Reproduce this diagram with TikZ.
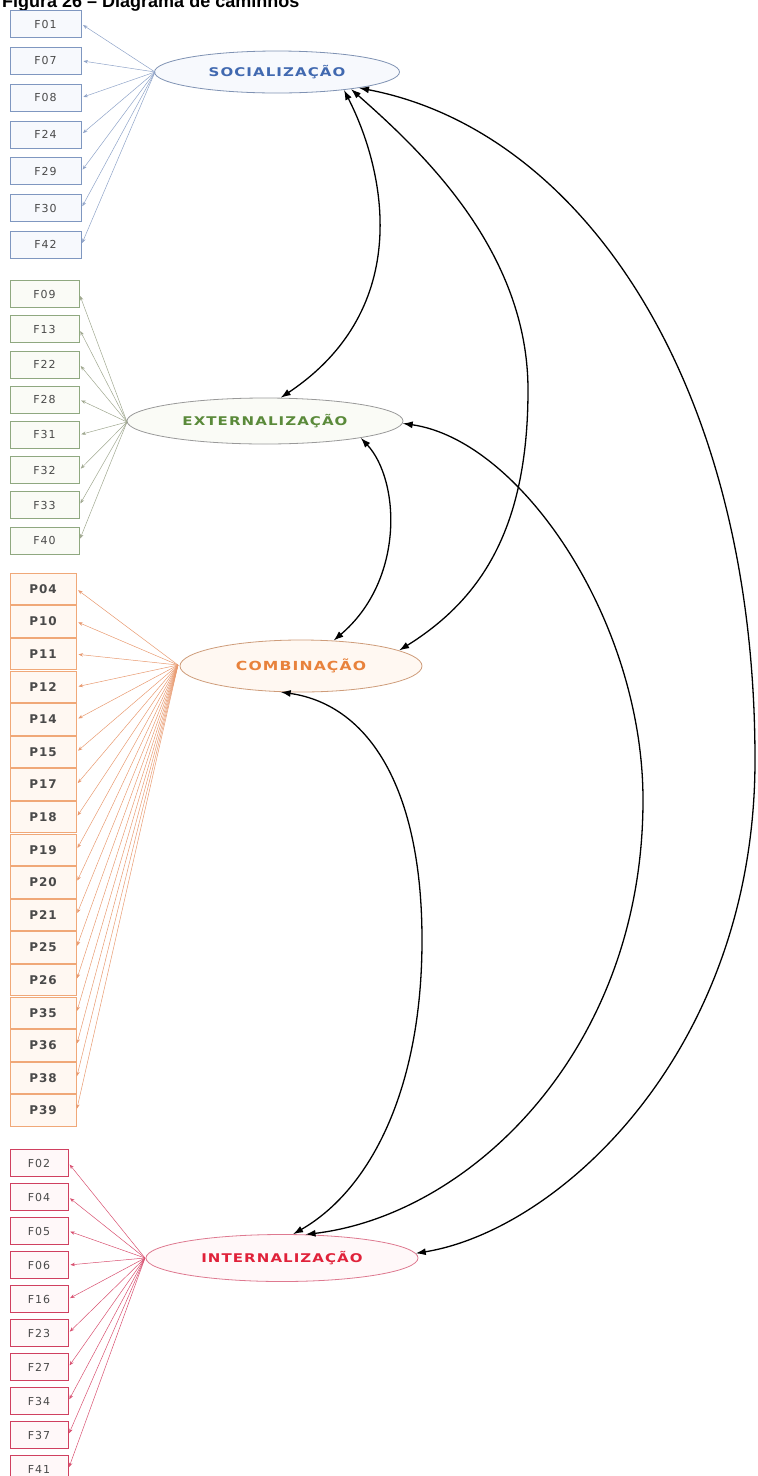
\documentclass[tikz,border=0pt]{standalone}
\usepackage{fontspec}
\setmainfont{DejaVu Sans}
\newfontfamily\titlefont{Liberation Sans}
\newfontfamily\boxfont[LetterSpace=8]{DejaVu Sans}
\newfontfamily\labfont[FakeStretch=1.25,LetterSpace=9]{DejaVu Sans}
\usetikzlibrary{shapes.geometric,arrows.meta}

\definecolor{sBord}{HTML}{7F97C0}
\definecolor{sFill}{HTML}{F7F9FD}
\definecolor{sText}{HTML}{4169B0}
\definecolor{sLine}{HTML}{8FA3C8}
\definecolor{eBord}{HTML}{8FA880}
\definecolor{eFill}{HTML}{FAFBF6}
\definecolor{eText}{HTML}{5A8A3A}
\definecolor{eLine}{HTML}{A0A890}
\definecolor{cBord}{HTML}{F0A878}
\definecolor{cFill}{HTML}{FFF8F2}
\definecolor{cText}{HTML}{E8823C}
\definecolor{cLine}{HTML}{E89A70}
\definecolor{iBord}{HTML}{D04060}
\definecolor{iFill}{HTML}{FFF8F9}
\definecolor{iText}{HTML}{E0223A}
\definecolor{iLine}{HTML}{D85070}
\definecolor{boxTxt}{HTML}{4A4A4A}

\tikzset{
  box/.style={draw, line width=0.8pt, inner sep=0pt, text=boxTxt,
    font=\boxfont\fontsize{11}{13}\selectfont},
  sbox/.style={box, draw=sBord, fill=sFill, minimum width=71pt, minimum height=27pt},
  ebox/.style={box, draw=eBord, fill=eFill, minimum width=69pt, minimum height=27pt},
  cbox/.style={box, draw=cBord, fill=cFill, minimum width=66pt, minimum height=31.5pt,
    line width=1pt, font=\boxfont\bfseries\fontsize{12}{14}\selectfont},
  ibox/.style={box, draw=iBord, fill=iFill, minimum width=58pt, minimum height=27pt},
  ell/.style={ellipse, draw, line width=0.8pt, inner sep=0pt,
    font=\labfont\bfseries\fontsize{12}{14}\selectfont},
  ind/.style={line width=0.5pt, -{Stealth[length=4.5pt,width=3.5pt]}, shorten >=2pt},
  cov/.style={line width=1.3pt, black,
    {Latex[length=10pt,width=7pt]}-{Latex[length=10pt,width=7pt]}}
}

\begin{document}
\begin{tikzpicture}[x=1pt,y=-1pt]
\useasboundingbox (0,0) rectangle (758,1476);
\begin{scope}
\clip (0,0) rectangle (758,1476);
\node[anchor=base west, inner sep=0pt, font=\titlefont\bfseries\fontsize{18}{20}\selectfont]
  (title) at (2,7) {Figura 26 – Diagrama de caminhos};

% latent variables
\node[ell, draw=sBord!80!gray, fill=sFill, text=sText, minimum width=245pt, minimum height=42pt]
  (soc) at (277,72) {SOCIALIZAÇÃO};
\node[ell, draw=gray!80, fill=eFill, text=eText, minimum width=276pt, minimum height=46pt]
  (ext) at (265,421) {EXTERNALIZAÇÃO};
\node[ell, draw=cBord!70!gray, fill=cFill, text=cText, minimum width=242pt, minimum height=52pt,
  font=\labfont\bfseries\fontsize{12.5}{15}\selectfont]
  (comb) at (301,666) {COMBINAÇÃO};
\node[ell, draw=iBord!70, fill=iFill, text=iText, minimum width=272pt, minimum height=47pt]
  (int) at (282,1258) {INTERNALIZAÇÃO};

\coordinate (socF) at (155,72);
\coordinate (extF) at (127,422);
\coordinate (combF) at (178,665);
\coordinate (intF) at (145,1258);

% indicators
\foreach \lab [count=\i from 0] in {F01,F07,F08,F24,F29,F30,F42} {
  \node[sbox] (\lab) at (45.5,{24+36.8*\i}) {\lab};
  \draw[ind, sLine] (socF) -- (\lab.east);
}
\foreach \lab [count=\i from 0] in {F09,F13,F22,F28,F31,F32,F33,F40} {
  \node[ebox] (\lab) at (44.5,{294+35.2*\i}) {\lab};
  \draw[ind, eLine] (extF) -- (\lab.east);
}
\foreach \lab [count=\i from 0] in {P04,P10,P11,P12,P14,P15,P17,P18,P19,P20,P21,P25,P26,P35,P36,P38,P39} {
  \node[cbox] (\lab) at (43,{589+32.6*\i}) {\lab};
  \draw[ind, cLine] (combF) -- (\lab.east);
}
\foreach \lab [count=\i from 0] in {F02,F04,F05,F06,F16,F23,F27,F34,F37,F41} {
  \node[ibox] (\lab) at (39,{1163+34*\i}) {\lab};
  \draw[ind, iLine] (intF) -- (\lab.east);
}

% covariances
\draw[cov] (soc.-15) .. controls (385,170) and (415,308) .. (ext.56);
\draw[cov] (soc.-13) .. controls (420,150) and (528,250) .. (528,390)
  .. controls (528,530) and (480,600) .. (comb.9);
\draw[cov] (soc.-11) .. controls (580,130) and (755,380) .. (755,760)
  .. controls (755,1050) and (560,1230) .. (int.2);
\draw[cov] (ext.-10) .. controls (400,480) and (405,580) .. (comb.38);
\draw[cov] (ext.-1) .. controls (520,440) and (643,620) .. (643,800)
  .. controls (643,1050) and (470,1215) .. (int.45);
\draw[cov] (comb.-128) .. controls (370,705) and (422,790) .. (422,940)
  .. controls (422,1090) and (370,1190) .. (int.65);
\end{scope}
\end{tikzpicture}
\end{document}
